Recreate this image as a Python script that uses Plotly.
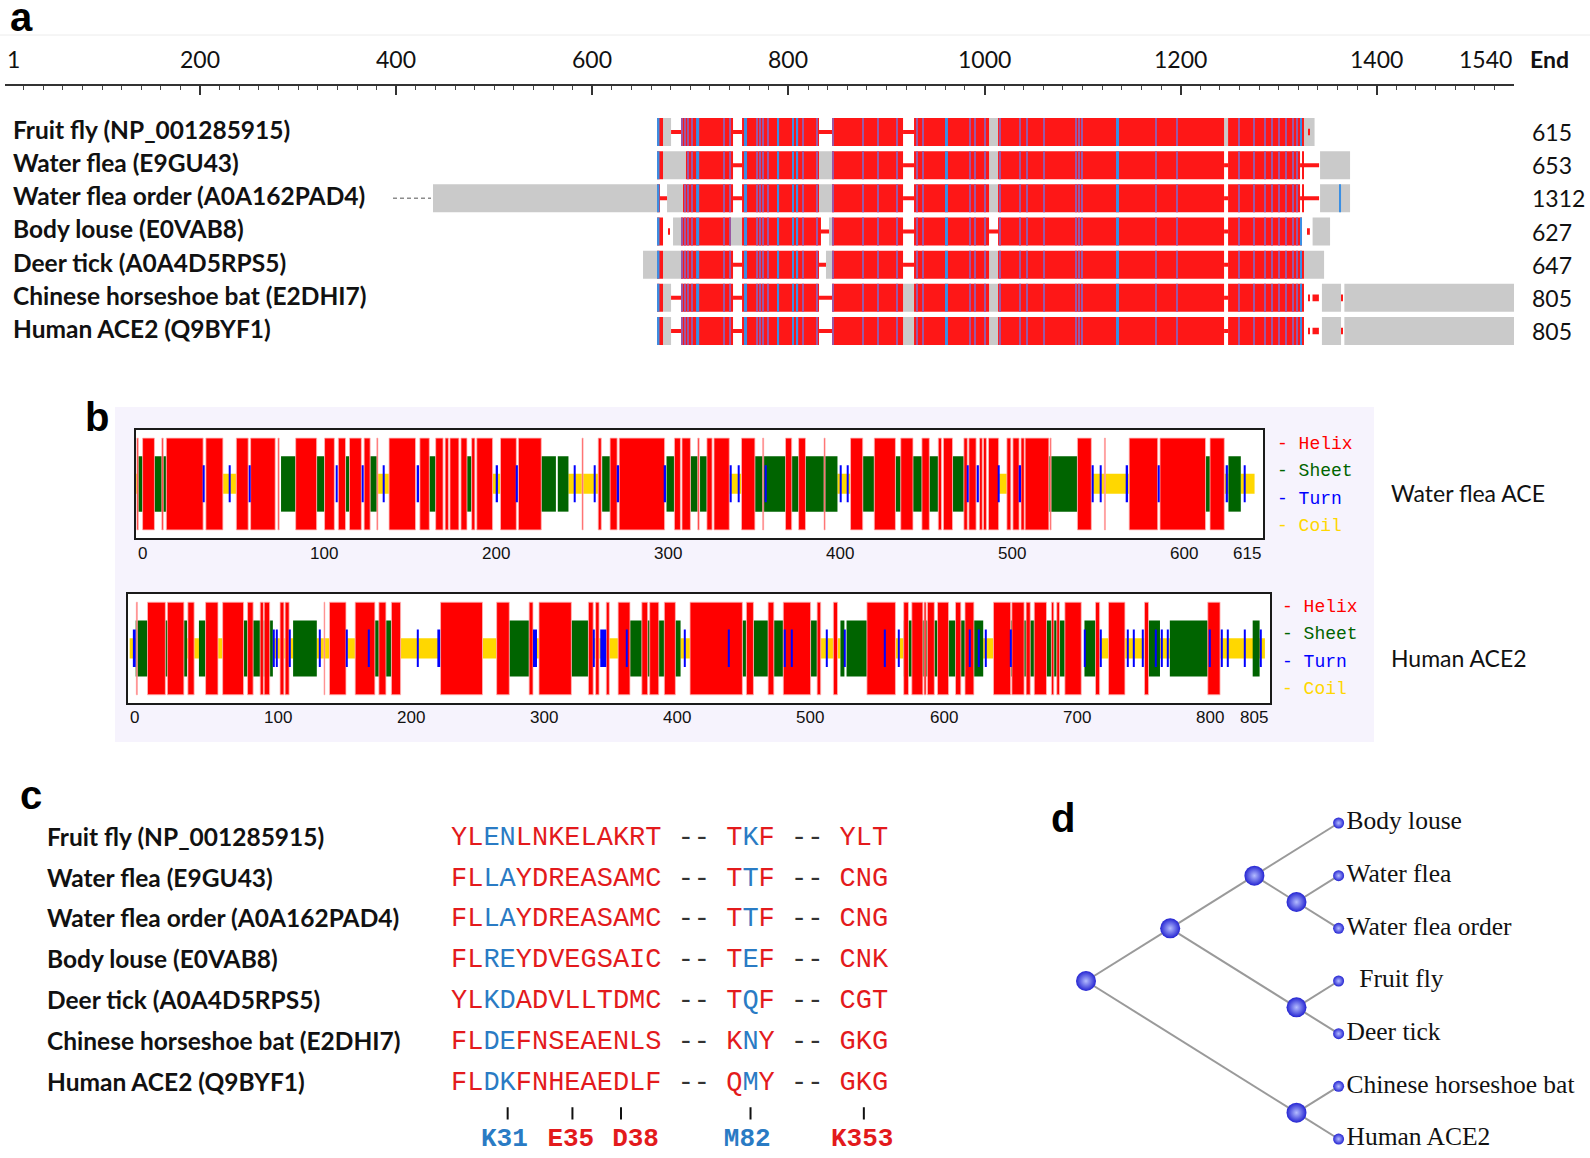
import plotly.graph_objects as go

W, H = 1590, 1158


def fx(p):
    return p / W


def fy(p):
    return 1 - p / H


# ============================ DATA ============================
# ---- panel a : alignment overview ----
SPECIES = ["Fruit fly (NP_001285915)", "Water flea (E9GU43)", "Water flea order (A0A162PAD4)",
           "Body louse (E0VAB8)", "Deer tick (A0A4D5RPS5)", "Chinese horseshoe bat (E2DHI7)",
           "Human ACE2 (Q9BYF1)"]
SEQ_END = ["615", "653", "1312", "627", "647", "805", "805"]
RULER_TICKS = [1, 200, 400, 600, 800, 1000, 1200, 1400, 1540]
RULER_LABELS = ["1", "200", "400", "600", "800", "1000", "1200", "1400", "1540"]

# segments per sequence: (start, end, kind)  R aligned, G unaligned, L gap line, D dot, B blue column
ROW_FRUITFLY = [(666.0, 672.1, "R"), (672.1, 680.3, "G"), (680.3, 690.5, "L"), (690.5, 743.5, "R"),
                (743.5, 752.7, "L"), (752.7, 831.2, "R"), (831.2, 844.5, "L"), (844.5, 916.9, "R"),
                (916.9, 928.1, "L"), (928.1, 1004.6, "R"), (1004.6, 1013.8, "G"), (1013.8, 1244.3, "R"),
                (1244.3, 1248.4, "G"), (1248.4, 1325.8, "R"), (1325.8, 1336.6, "G"), (1330.3, 1331.8, "D")]
ROW_WATERFLEA = [(666.0, 672.1, "R"), (672.1, 695.5, "G"), (695.5, 743.5, "R"), (743.5, 752.7, "L"),
                 (752.7, 831.2, "R"), (831.2, 844.5, "G"), (844.5, 916.9, "R"), (916.9, 928.1, "L"),
                 (928.1, 1004.6, "R"), (1004.6, 1013.8, "G"), (1013.8, 1244.3, "R"), (1244.3, 1248.4, "L"),
                 (1248.4, 1321.8, "R"), (1321.8, 1341.2, "L"), (1323.8, 1325.8, "R"), (1342.2, 1372.8, "G")]
ROW_WATERFLEA_ORDER = [(437.5, 666.0, "G"), (666.0, 669.0, "R"), (669.0, 676.2, "L"), (676.2, 692.5, "G"),
                       (692.5, 743.5, "R"), (743.5, 752.7, "L"), (752.7, 831.2, "R"), (831.2, 844.5, "G"),
                       (844.5, 916.9, "R"), (916.9, 928.1, "L"), (928.1, 1004.6, "R"), (1004.6, 1013.8, "G"),
                       (1013.8, 1244.3, "R"), (1244.3, 1248.4, "L"), (1248.4, 1321.8, "R"),
                       (1321.8, 1341.2, "L"), (1323.8, 1325.8, "R"), (1342.2, 1372.8, "G"),
                       (1362.0, 1363.6, "B")]
ROW_BODYLOUSE = [(666.0, 672.1, "R"), (677.5, 679.0, "D"), (682.3, 690.5, "G"), (690.5, 741.4, "R"),
                 (741.4, 752.7, "G"), (752.7, 833.2, "R"), (833.2, 841.4, "L"), (841.4, 844.5, "G"),
                 (844.5, 916.9, "R"), (916.9, 928.1, "L"), (928.1, 1004.6, "R"), (1004.6, 1013.8, "L"),
                 (1013.8, 1244.3, "R"), (1244.3, 1248.4, "L"), (1248.4, 1323.8, "R"),
                 (1329.8, 1331.8, "D"), (1334.6, 1352.4, "G")]
ROW_DEERTICK = [(651.7, 666.0, "G"), (666.0, 672.1, "R"), (672.1, 690.5, "G"), (690.5, 743.5, "R"),
                (743.5, 752.7, "L"), (752.7, 831.2, "R"), (831.2, 838.3, "L"), (838.3, 844.5, "G"),
                (844.5, 916.9, "R"), (916.9, 928.1, "L"), (928.1, 1004.6, "R"), (1004.6, 1013.8, "G"),
                (1013.8, 1244.3, "R"), (1244.3, 1248.4, "L"), (1248.4, 1325.8, "R"), (1325.8, 1346.3, "G")]
ROW_BAT = [(666.0, 672.1, "R"), (672.1, 680.3, "G"), (680.3, 690.5, "L"), (690.5, 743.5, "R"),
           (743.5, 752.7, "L"), (752.7, 831.2, "R"), (831.2, 844.5, "L"), (844.5, 916.9, "R"),
           (916.9, 928.1, "G"), (928.1, 1004.6, "R"), (1004.6, 1013.8, "G"), (1013.8, 1244.3, "R"),
           (1244.3, 1248.4, "L"), (1248.4, 1325.8, "R"), (1330.0, 1331.6, "D"), (1334.5, 1341.0, "D"),
           (1344.1, 1363.6, "G"), (1364.3, 1365.5, "D"), (1367.0, 1541.0, "G")]
ROW_HUMAN = [(666.0, 672.1, "R"), (672.1, 680.3, "G"), (680.3, 690.5, "L"), (690.5, 743.5, "R"),
             (743.5, 752.7, "L"), (752.7, 831.2, "R"), (831.2, 844.5, "L"), (844.5, 916.9, "R"),
             (916.9, 928.1, "G"), (928.1, 1004.6, "R"), (1004.6, 1013.8, "G"), (1013.8, 1244.3, "R"),
             (1244.3, 1248.4, "L"), (1248.4, 1325.8, "R"), (1330.0, 1331.6, "D"), (1334.5, 1341.0, "D"),
             (1344.1, 1363.6, "G"), (1364.3, 1365.5, "D"), (1367.0, 1541.0, "G")]
ROWS = [ROW_FRUITFLY, ROW_WATERFLEA, ROW_WATERFLEA_ORDER, ROW_BODYLOUSE, ROW_DEERTICK, ROW_BAT, ROW_HUMAN]
WFO_LEADER = (396.7, 435.5)

# low-conservation columns inside aligned blocks
STRIPES_BLUE = [(666.0, 668.5), (705.8, 709.0), (754.7, 757.8), (789.0, 790.5), (804.2, 805.7),
                (808.4, 809.9), (959.7, 962.7), (1134.1, 1137.2), (1321.9, 1323.6)]
STRIPES_PURPLE = [691.2, 694.5, 697.6, 701.3, 734.3, 740.4, 767.7, 771.1, 774.1, 779.2, 814.6, 828.9,
                  845.5, 876.1, 891.4, 910.4, 930.8, 937.3, 985.2, 990.3, 1000.5, 1015.8, 1036.2,
                  1043.0, 1060.7, 1093.4, 1096.5, 1099.5, 1174.9, 1196.3, 1259.4, 1274.7, 1285.9,
                  1293.0, 1300.2, 1307.4, 1314.5, 1318.6]

# ---- panel b : secondary structure ----
WF_TICKS = [0, 100, 200, 300, 400, 500, 600]
WF_END_LABEL = "615"
WF_HELIX = [(0.5, 1.3), (3.8, 10.7), (15.0, 15.8), (17.6, 39.0), (40.6, 50.5), (58.3, 65.2), (66.6, 80.9),
            (82.5, 83.2), (92.8, 105.0), (109.6, 115.3), (117.6, 121.8), (124.1, 131.0), (132.6, 136.1),
            (140.0, 140.6), (147.1, 162.5), (165.0, 170.5), (174.2, 178.5), (179.7, 181.6), (182.5, 187.7),
            (188.9, 192.4), (195.1, 197.0), (198.1, 207.3), (211.9, 221.1), (222.3, 235.6), (259.3, 259.9),
            (268.7, 270.5), (275.6, 279.7), (280.9, 307.3), (313.0, 316.5), (317.4, 322.3), (326.6, 327.4),
            (331.9, 334.9), (336.0, 344.9), (352.0, 359.8), (364.3, 364.9), (377.6, 381.2), (385.2, 389.2),
            (400.0, 400.6), (415.4, 422.5), (429.2, 441.5), (444.6, 451.7), (456.9, 461.2), (466.4, 468.3),
            (469.4, 474.7), (481.3, 483.3), (484.2, 488.4), (490.4, 492.0), (492.7, 494.4), (495.6, 501.5),
            (506.3, 508.6), (509.8, 513.4), (514.5, 516.4), (516.9, 530.7), (531.4, 532.0), (547.3, 555.4),
            (563.0, 563.6), (577.4, 594.0), (595.3, 621.8), (624.4, 632.7)]
WF_SHEET = [(0.8, 17.6), (84.3, 92.8), (105.0, 109.6), (121.8, 124.1), (136.1, 140.2), (170.5, 174.2),
            (192.4, 195.1), (235.6, 244.1), (245.2, 251.4), (271.0, 275.6), (308.4, 313.0), (322.3, 326.6),
            (327.9, 331.9), (359.8, 407.8), (422.5, 429.2), (441.5, 444.6), (451.7, 456.9), (461.2, 466.4),
            (474.7, 481.3), (530.7, 547.3), (621.8, 624.4), (635.1, 642.3)]
WF_COIL = [(0.0, 1.0), (50.5, 58.3), (140.2, 147.1), (207.3, 211.9), (251.4, 259.3), (259.9, 268.7),
           (344.9, 352.0), (407.8, 415.4), (501.5, 506.3), (555.4, 577.4), (632.7, 635.1), (642.3, 650.3)]
WF_TURN = [(39.1, 39.9), (54.0, 54.8), (65.5, 66.3), (116.1, 116.9), (131.5, 132.3), (143.7, 144.5),
           (163.7, 164.5), (209.6, 210.4), (221.2, 222.0), (254.5, 255.3), (266.2, 267.0), (280.0, 280.8),
           (307.3, 308.1), (345.2, 346.0), (349.9, 350.7), (365.8, 366.6), (409.3, 410.1), (413.3, 414.1),
           (483.3, 484.1), (489.2, 490.0), (501.1, 501.9), (513.7, 514.5), (555.7, 556.5), (560.4, 561.2),
           (575.9, 576.7), (594.1, 594.9), (634.0, 634.8), (644.2, 645.0)]

HU_TICKS = [0, 100, 200, 300, 400, 500, 600, 700, 800]
HU_END_LABEL = "805"
HU_HELIX = [(5.9, 6.7), (14.3, 27.7), (29.2, 41.6), (44.6, 49.3), (57.9, 67.2), (70.7, 86.4), (89.4, 93.6),
            (98.9, 101.3), (101.9, 106.0), (113.8, 116.7), (117.6, 120.6), (146.8, 147.4), (150.9, 163.3),
            (170.2, 185.0), (188.0, 193.3), (197.4, 204.3), (234.3, 265.8), (276.4, 285.9), (300.8, 303.7),
            (308.2, 332.5), (345.3, 348.9), (350.7, 353.3), (358.7, 361.0), (367.6, 376.5), (385.4, 389.8),
            (391.3, 398.1), (402.3, 410.6), (421.6, 460.9), (463.9, 469.2), (480.2, 484.5), (491.6, 512.1),
            (517.0, 519.7), (529.2, 532.3), (554.4, 575.8), (582.0, 585.6), (588.1, 596.4), (597.3, 598.8),
            (599.8, 605.0), (607.4, 615.7), (620.9, 624.9), (628.0, 634.7), (649.4, 662.3), (663.2, 672.4),
            (673.9, 677.0), (680.0, 689.2), (692.9, 694.7), (696.9, 699.0), (703.0, 715.3), (726.0, 729.1),
            (735.8, 748.1), (762.8, 765.8), (810.3, 819.5)]
HU_SHEET = [(5.4, 44.0), (52.9, 57.9), (86.4, 108.4), (123.6, 141.4), (185.0, 197.4), (285.9, 300.8),
            (332.5, 345.3), (376.5, 414.5), (460.9, 463.9), (469.2, 480.2), (484.5, 491.6), (512.1, 517.6),
            (534.5, 537.5), (539.1, 554.4), (582.0, 641.7), (662.3, 703.0), (717.7, 727.5), (765.8, 774.4),
            (781.8, 810.3), (844.0, 849.2)]
HU_COIL = [(0.9, 5.4), (44.0, 52.9), (67.2, 70.7), (108.4, 123.6), (141.4, 150.9), (163.3, 170.2),
           (204.3, 234.3), (265.8, 276.4), (300.8, 308.2), (345.3, 367.6), (414.5, 421.6), (517.6, 534.5),
           (575.8, 582.0), (641.7, 649.4), (727.5, 765.8), (774.4, 781.8), (819.5, 853.2)]
HU_TURN = [(3.3, 5.4), (108.4, 109.2), (111.0, 111.8), (120.8, 121.6), (143.1, 143.9), (163.3, 164.1),
           (180.1, 180.9), (216.6, 217.4), (231.9, 234.0), (303.7, 306.7), (348.9, 349.7), (354.2, 358.7),
           (374.0, 374.8), (417.6, 418.4), (450.4, 451.2), (492.1, 492.9), (497.3, 498.1), (524.2, 525.0),
           (537.7, 538.5), (567.8, 568.6), (577.6, 578.4), (631.2, 632.0), (638.3, 639.1), (643.5, 644.3),
           (661.9, 662.7), (717.3, 718.1), (729.3, 730.1), (750.1, 750.9), (754.7, 755.5), (760.8, 761.6),
           (771.0, 771.8), (775.2, 776.0), (779.8, 780.6), (811.4, 812.2), (820.6, 821.4), (825.2, 826.0),
           (837.4, 838.2), (849.7, 850.5)]
SS_LEGEND = ["- Helix", "- Sheet", "- Turn", "- Coil"]

# ---- panel c : interface residues ----
SEQ_BLOCK1 = ["YLENLNKELAKRT", "FLLAYDREASAMC", "FLLAYDREASAMC", "FLREYDVEGSAIC",
              "YLKDADVLLTDMC", "FLDEFNSEAENLS", "FLDKFNHEAEDLF"]
SEQ_BLOCK2 = ["TKF", "TTF", "TTF", "TEF", "TQF", "KNY", "QMY"]
SEQ_BLOCK3 = ["YLT", "CNG", "CNG", "CNK", "CGT", "GKG", "GKG"]
BLUE_COLUMNS = [2, 3, 18]
HOTSPOT_LABELS = ["K31", "E35", "D38", "M82", "K353"]
HOTSPOT_COLUMNS = [3, 7, 10, 18, 25]
HOTSPOT_LABEL_COLUMNS = [2.8, 6.9, 10.9, 17.8, 24.9]
HOTSPOT_IS_BLUE = [True, False, False, True, False]

# ---- panel d : tree ----
TREE = ((("Body louse", ("Water flea", "Water flea order")), ("Fruit fly", "Deer tick")),
        ("Chinese horseshoe bat", "Human ACE2"))
LEAF_DISPLAY = {"Fruit fly": "\u00a0\u00a0Fruit fly"}

# ============================ STYLE ============================
RED_A, GREY_A, BLUE_A, PURPLE_A = "#fe1717", "#cacaca", "#3a8fe4", "#9a58a4"
SS_RED, SS_GREEN, SS_BLUE, SS_YELLOW = "#ff0000", "#006400", "#0000ff", "#ffd700"
SEQ_RED, SEQ_BLUE = "#e31a1c", "#2a7bc4"
LABEL_FONT = "Lato"
BAND = {"helix": (0.075, 0.85), "sheet": (0.244, 0.514), "turn": (0.33, 0.344), "coil": (0.409, 0.185)}

fig = go.Figure()

# ============================ PANEL A ============================
HEIGHT = {"G": 0.845, "R": 0.845, "B": 0.845, "L": 0.12, "D": 0.2}
COLOR = {"G": GREY_A, "R": RED_A, "B": BLUE_A, "L": RED_A, "D": RED_A}
for kind in ["G", "R", "L", "D"]:
    ys, ln, bs, ws = [], [], [], []
    for i, row in enumerate(ROWS):
        for a, b, k in row:
            if k == kind:
                ys.append(i); ln.append(b - a); bs.append(a); ws.append(HEIGHT[kind])
    fig.add_trace(go.Bar(orientation="h", y=ys, x=ln, base=bs, width=ws,
                         marker=dict(color=COLOR[kind], line=dict(width=0)),
                         xaxis="x2", yaxis="y2", hoverinfo="skip", showlegend=False))


def stripes_on_red(stripes):
    ys, ln, bs = [], [], []
    for i, row in enumerate(ROWS):
        for s, e in stripes:
            for a, b, k in row:
                if k == "R":
                    lo, hi = max(a, s), min(b, e)
                    if hi > lo:
                        ys.append(i); ln.append(hi - lo); bs.append(lo)
    return ys, ln, bs


purple_pairs = [(c - 0.65, c + 0.65) for c in STRIPES_PURPLE]
for pairs, col in [(purple_pairs, PURPLE_A), (STRIPES_BLUE, BLUE_A)]:
    ys, ln, bs = stripes_on_red(pairs)
    fig.add_trace(go.Bar(orientation="h", y=ys, x=ln, base=bs, width=[HEIGHT["R"]] * len(ys),
                         marker=dict(color=col, line=dict(width=0)),
                         xaxis="x2", yaxis="y2", hoverinfo="skip", showlegend=False))
# explicit blue columns in unaligned tails
ys, ln, bs = [], [], []
for i, row in enumerate(ROWS):
    for a, b, k in row:
        if k == "B":
            ys.append(i); ln.append(b - a); bs.append(a)
fig.add_trace(go.Bar(orientation="h", y=ys, x=ln, base=bs, width=[HEIGHT["B"]] * len(ys),
                     marker=dict(color=BLUE_A, line=dict(width=0)),
                     xaxis="x2", yaxis="y2", hoverinfo="skip", showlegend=False))
# dashed leader for the long water flea order sequence
fig.add_trace(go.Scatter(x=list(WFO_LEADER), y=[SPECIES.index("Water flea order (A0A162PAD4)")] * 2,
                         mode="lines", line=dict(color="#8c8c8c", width=1.5, dash="4px,3px"),
                         xaxis="x2", yaxis="y2", hoverinfo="skip", showlegend=False))
# invisible trace to instantiate the ruler axis
fig.add_trace(go.Scatter(x=[RULER_TICKS[0], RULER_TICKS[-1]], y=[0, 0], mode="markers",
                         marker=dict(opacity=0), xaxis="x", yaxis="y", hoverinfo="skip", showlegend=False))

# ============================ PANEL B ============================
def ss_traces(helix, sheet, coil, turn, xa, ya):
    for segs, band, col, lw in [(coil, "coil", SS_YELLOW, 0), (sheet, "sheet", SS_GREEN, 0),
                                (helix, "helix", SS_RED, 0.8), (turn, "turn", SS_BLUE, 0)]:
        base, hgt = BAND[band]
        fig.add_trace(go.Bar(x=[(a + b) / 2 for a, b in segs], y=[hgt] * len(segs),
                             base=[base] * len(segs), width=[b - a for a, b in segs],
                             marker=dict(color=col, line=dict(width=lw, color="#ffb8b8")),
                             xaxis=xa, yaxis=ya, hoverinfo="skip", showlegend=False))


ss_traces(WF_HELIX, WF_SHEET, WF_COIL, WF_TURN, "x3", "y3")
ss_traces(HU_HELIX, HU_SHEET, HU_COIL, HU_TURN, "x4", "y4")

# ============================ PANEL C ============================
rows_c = [f"{a} -- {b} -- {c}" for a, b, c in zip(SEQ_BLOCK1, SEQ_BLOCK2, SEQ_BLOCK3)]
cx, cy, ct, cc = [], [], [], []
for i, s in enumerate(rows_c):
    for j, ch in enumerate(s):
        if ch == " ":
            continue
        cx.append(j); cy.append(i); ct.append(ch)
        cc.append("#333333" if ch == "-" else (SEQ_BLUE if j in BLUE_COLUMNS else SEQ_RED))
fig.add_trace(go.Scatter(x=cx, y=cy, text=ct, mode="text", cliponaxis=False,
                         textfont=dict(family="Liberation Mono, Courier New, monospace", size=27, color=cc),
                         xaxis="x5", yaxis="y5", hoverinfo="skip", showlegend=False))
tx, ty = [], []
for c in HOTSPOT_COLUMNS:
    tx += [c, c, None]; ty += [6.6, 6.9, None]
fig.add_trace(go.Scatter(x=tx, y=ty, mode="lines", line=dict(color="#111111", width=2), cliponaxis=False,
                         xaxis="x5", yaxis="y5", hoverinfo="skip", showlegend=False))
fig.add_trace(go.Scatter(x=HOTSPOT_LABEL_COLUMNS, y=[7.38] * len(HOTSPOT_LABELS), text=HOTSPOT_LABELS,
                         mode="text", cliponaxis=False,
                         textfont=dict(family="Liberation Mono, Courier New, monospace", size=26,
                                       weight="bold",
                                       color=[SEQ_BLUE if b else SEQ_RED for b in HOTSPOT_IS_BLUE]),
                         xaxis="x5", yaxis="y5", hoverinfo="skip", showlegend=False))

# ============================ PANEL D ============================
leaf_idx = {}


def collect(n):
    if isinstance(n, str):
        leaf_idx[n] = len(leaf_idx)
        return
    for ch in n:
        collect(ch)


collect(TREE)
LEAF_DEPTH = (len(leaf_idx) - 1) / 2
leaves_pos, internal_pos, edges = [], [], []


def place(n):
    if isinstance(n, str):
        p = (LEAF_DEPTH, leaf_idx[n])
        leaves_pos.append((p, n))
        return p, leaf_idx[n], leaf_idx[n]
    res = [place(ch) for ch in n]
    lo = min(r[1] for r in res)
    hi = max(r[2] for r in res)
    p = (LEAF_DEPTH - (hi - lo) / 2, (lo + hi) / 2)
    internal_pos.append(p)
    for r in res:
        edges.append((p, r[0]))
    return p, lo, hi


place(TREE)
ex, ey = [], []
for (a, b) in edges:
    ex += [a[0], b[0], None]; ey += [a[1], b[1], None]
fig.add_trace(go.Scatter(x=ex, y=ey, mode="lines", line=dict(color="#9a9a9a", width=2),
                         xaxis="x6", yaxis="y6", hoverinfo="skip", showlegend=False))
fig.add_trace(go.Scatter(x=[p[0] for p in internal_pos], y=[p[1] for p in internal_pos], mode="markers",
                         marker=dict(size=20, color="#2424d2", gradient=dict(type="radial", color="#b4bcff"),
                                     line=dict(width=0)),
                         xaxis="x6", yaxis="y6", hoverinfo="skip", showlegend=False))
fig.add_trace(go.Scatter(x=[p[0] for p, n in leaves_pos], y=[p[1] for p, n in leaves_pos],
                         text=[LEAF_DISPLAY.get(n, n) for p, n in leaves_pos],
                         mode="markers+text", textposition="middle right", cliponaxis=False,
                         textfont=dict(family="Liberation Serif, Times New Roman, serif", size=25.5,
                                       color="#111"),
                         marker=dict(size=11, color="#2424d2", gradient=dict(type="radial", color="#b4bcff"),
                                     line=dict(width=0)),
                         xaxis="x6", yaxis="y6", hoverinfo="skip", showlegend=False))

# ============================ AXES ============================
hidden = dict(visible=False, showgrid=False, zeroline=False)
row_unit = 33.17
ya2_top = 132 - row_unit * 0.5
ya2_bot = ya2_top + row_unit * 7
c_unit, c_top = 40.8, 838
d_x0, d_xu = 1086, 84.2
d_y0, d_yu = 823, 52.67
box = dict(showline=True, mirror=True, linecolor="#1a1a1a", linewidth=2, showgrid=False, zeroline=False,
           showticklabels=False, ticks="")

fig.update_layout(
    width=W, height=H, template="none", barmode="overlay",
    margin=dict(l=0, r=0, t=0, b=0), paper_bgcolor="white", plot_bgcolor="white",
    showlegend=False,
    xaxis=dict(domain=[fx(5), fx(1514)], range=[1, 1540], anchor="y", side="top", showline=True,
               linecolor="#333333", linewidth=1.5, ticks="inside", ticklen=9, tickwidth=1.5,
               tickcolor="#333333", tickmode="array", tickvals=RULER_TICKS, showticklabels=False,
               showgrid=False, zeroline=False,
               minor=dict(ticks="inside", ticklen=4, tickwidth=1, tickcolor="#444444", dtick=20, tick0=0,
                          showgrid=False)),
    yaxis=dict(domain=[fy(100), fy(86)], range=[0, 1], **hidden),
    xaxis2=dict(domain=[fx(5), fx(1514)], range=[1, 1540], anchor="y2", **hidden),
    yaxis2=dict(domain=[fy(ya2_bot), fy(ya2_top)], range=[6.5, -0.5], anchor="x2", **hidden),
    xaxis3=dict(domain=[fx(135.7), fx(1263)], range=[-0.2, 655.2], anchor="y3", **box),
    yaxis3=dict(domain=[fy(538), fy(430)], range=[0, 1], anchor="x3", **box),
    xaxis4=dict(domain=[fx(127.8), fx(1270)], range=[-0.5, 857], anchor="y4", **box),
    yaxis4=dict(domain=[fy(703), fy(594)], range=[0, 1], anchor="x4", **box),
    xaxis5=dict(domain=[fx(451), fx(451 + 27 * 16.19)], range=[-0.5, 26.5], anchor="y5", **hidden),
    yaxis5=dict(domain=[fy(c_top + c_unit * 7.8), fy(c_top - c_unit * 0.5)], range=[7.8, -0.5],
                anchor="x5", **hidden),
    xaxis6=dict(domain=[fx(1044), 1.0], range=[(1044 - d_x0) / d_xu, (W - d_x0) / d_xu], anchor="y6",
                **hidden),
    yaxis6=dict(domain=[0.0, fy(770)], range=[(H - d_y0) / d_yu, (770 - d_y0) / d_yu], anchor="x6",
                **hidden),
)

shapes = [
    dict(type="line", xref="paper", yref="paper", x0=0, x1=1, y0=fy(35), y1=fy(35),
         line=dict(color="#ececec", width=1), layer="below"),
    dict(type="rect", xref="paper", yref="paper", x0=fx(115), x1=fx(1374), y0=fy(742), y1=fy(407),
         fillcolor="#f6f3fd", line=dict(width=0), layer="below"),
    dict(type="rect", xref="x3 domain", yref="y3 domain", x0=0, x1=1, y0=0, y1=1,
         fillcolor="white", line=dict(width=0), layer="below"),
    dict(type="rect", xref="x4 domain", yref="y4 domain", x0=0, x1=1, y0=0, y1=1,
         fillcolor="white", line=dict(width=0), layer="below"),
]
fig.update_layout(shapes=shapes)

ann = []


def A(**kw):
    kw.setdefault("showarrow", False)
    ann.append(kw)


panel_font = dict(family="Liberation Sans, Arial", size=40, color="black", weight="bold")
A(text="a", x=fx(8), y=fy(17), xref="paper", yref="paper", xanchor="left", yanchor="middle", font=panel_font)
A(text="b", x=fx(83), y=fy(417), xref="paper", yref="paper", xanchor="left", yanchor="middle", font=panel_font)
A(text="c", x=fx(18), y=fy(795), xref="paper", yref="paper", xanchor="left", yanchor="middle", font=panel_font)
A(text="d", x=fx(1049), y=fy(818), xref="paper", yref="paper", xanchor="left", yanchor="middle", font=panel_font)

# ruler labels
rfont = dict(family=LABEL_FONT, size=23, color="#111")
for i, (v, t) in enumerate(zip(RULER_TICKS, RULER_LABELS)):
    xa = "left" if i == 0 else ("right" if i == len(RULER_TICKS) - 1 else "center")
    A(text=t, x=v, y=fy(59), xref="x", yref="paper", xanchor=xa, yanchor="middle", font=rfont)
A(text="End", x=fx(1528), y=fy(59), xref="paper", yref="paper", xanchor="left", yanchor="middle",
  font=dict(family=LABEL_FONT, size=23, color="#111", weight="bold"))

# species labels + lengths (panel a)
for i, (s, e) in enumerate(zip(SPECIES, SEQ_END)):
    A(text=s, x=fx(11), y=i - 0.08, xref="paper", yref="y2", xanchor="left", yanchor="middle",
      font=dict(family=LABEL_FONT, size=24.5, color="#111", weight="bold"))
    A(text=e, x=fx(1530), y=i, xref="paper", yref="y2", xanchor="left", yanchor="middle",
      font=dict(family=LABEL_FONT, size=23, color="#111"))

# panel b axis labels, legend, titles
bfont = dict(family="Liberation Sans, Arial", size=17, color="#111")
for v in WF_TICKS:
    A(text=str(v), x=v, y=fy(553), xref="x3", yref="paper", xanchor="left", yanchor="middle", font=bfont)
A(text=WF_END_LABEL, x=1, y=fy(553), xref="x3 domain", yref="paper", xanchor="right", yanchor="middle",
  font=bfont)
for v in HU_TICKS:
    A(text=str(v), x=v, y=fy(717), xref="x4", yref="paper", xanchor="left", yanchor="middle", font=bfont)
A(text=HU_END_LABEL, x=1, y=fy(717), xref="x4 domain", yref="paper", xanchor="right", yanchor="middle",
  font=bfont)
for k, (lab, col) in enumerate(zip(SS_LEGEND, [SS_RED, SS_GREEN, SS_BLUE, SS_YELLOW])):
    lf = dict(family="Liberation Mono, DejaVu Sans Mono, monospace", size=18, color=col)
    A(text=lab, x=fx(1275), y=fy(444 + 27.3 * k), xref="paper", yref="paper", xanchor="left",
      yanchor="middle", font=lf)
    A(text=lab, x=fx(1280), y=fy(607 + 27.3 * k), xref="paper", yref="paper", xanchor="left",
      yanchor="middle", font=lf)
tfont = dict(family=LABEL_FONT, size=23, color="#111")
A(text="Water flea ACE", x=fx(1389), y=fy(493), xref="paper", yref="paper", xanchor="left",
  yanchor="middle", font=tfont)
A(text="Human ACE2", x=fx(1389), y=fy(658), xref="paper", yref="paper", xanchor="left",
  yanchor="middle", font=tfont)

# panel c species labels
for i, s in enumerate(SPECIES):
    A(text=s, x=fx(45), y=i - 0.04, xref="paper", yref="y5", xanchor="left", yanchor="middle",
      font=dict(family=LABEL_FONT, size=24.5, color="#111", weight="bold"))

fig.update_layout(annotations=ann)

fig.write_html("out.html", config={"displayModeBar": False},
               post_script="document.body.style.margin='0';document.body.style.overflow='hidden';")
